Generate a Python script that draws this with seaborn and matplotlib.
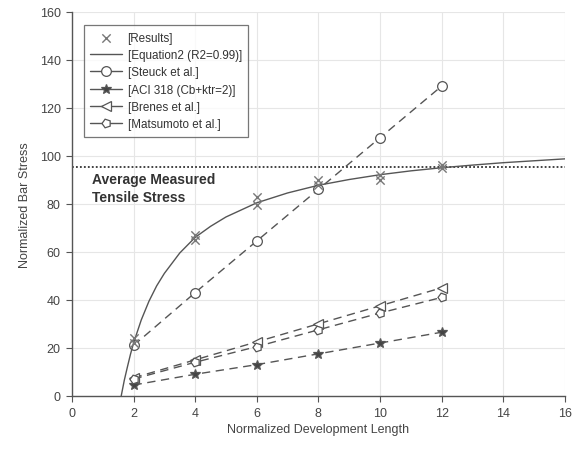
import matplotlib
matplotlib.use("Agg")
import matplotlib.pyplot as plt
import seaborn as sns
import numpy as np
import pandas as pd

# ---- data ----
results_x = [2, 2, 4, 4, 6, 6, 8, 8, 10, 10, 12, 12]
results_y = [22, 24, 65, 67, 79.5, 83, 88, 90, 90, 92, 95, 96]

eq_x = [1.6, 1.7, 1.8, 1.9, 2.0, 2.25, 2.5, 2.75, 3.0, 3.5, 4.0, 4.5, 5.0, 6.0, 7.0,
        8.0, 9.0, 10.0, 11.0, 12.0, 13.0, 14.0, 15.0, 16.0]
eq_y = [0, 6.5, 12, 17.3, 22, 31.6, 39.4, 45.8, 51, 59.5, 66, 70.6, 74.5, 80.4, 84.5,
        87.7, 90.1, 92.1, 93.7, 95, 96.1, 97.1, 97.9, 98.7]

ld = [2, 4, 6, 8, 10, 12]
steuck = [21, 43, 64.5, 86, 107.5, 129]
aci = [4.5, 9, 13, 17.5, 22, 26.5]
brenes = [7.5, 15, 22.5, 30, 37.5, 45]
matsumoto = [7, 14, 20.5, 27.5, 34.5, 41]

avg_tensile = 95.5

labels = ["[Results]", "[Equation2 (R2=0.99)]", "[Steuck et al.]",
          "[ACI 318 (Cb+ktr=2)]", "[Brenes et al.]", "[Matsumoto et al.]"]

# ---- styling ----
sns.set_theme(style="white")
plt.rcParams['font.family'] = ['Liberation Sans', 'DejaVu Sans']
txt = "#444444"

fig = plt.figure(figsize=(5.8, 4.52), dpi=100)
ax = fig.add_axes([0.124, 0.122, 0.850, 0.850])

lc = "#555555"
sns.scatterplot(x=results_x, y=results_y, marker="x", s=36, color="#777777",
                linewidth=1.0, ax=ax, label=labels[0], zorder=4)
sns.lineplot(x=eq_x, y=eq_y, color=lc, linewidth=1.0, ax=ax, label=labels[1],
             sort=False, zorder=3)
common = dict(color=lc, linewidth=1.0, linestyle=(0, (6, 4)),
              markeredgecolor=lc, markeredgewidth=0.9, ax=ax)
sns.lineplot(x=ld, y=steuck, marker="o", markersize=7, markerfacecolor="white",
             label=labels[2], **common)
sns.lineplot(x=ld, y=aci, marker="*", markersize=7, markerfacecolor="#444444",
             label=labels[3], **common)
sns.lineplot(x=ld, y=brenes, marker="<", markersize=6.5, markerfacecolor="white",
             label=labels[4], **common)
sns.lineplot(x=ld, y=matsumoto, marker=(5, 0, 90), markersize=6.5,
             markerfacecolor="white", label=labels[5], **common)

ax.axhline(avg_tensile, color="#333333", linestyle=(0, (1, 1.2)), linewidth=1.3, zorder=2)
ax.text(0.65, 90.5, "Average Measured", color="#333333", fontsize=10,
        fontweight="bold", va="center", ha="left")
ax.text(0.65, 83, "Tensile Stress", color="#333333", fontsize=10,
        fontweight="bold", va="center", ha="left")

ax.set_xlim(0, 16)
ax.set_ylim(0, 160)
ax.set_xticks(np.arange(0, 17, 2))
ax.set_yticks(np.arange(0, 161, 20))
ax.grid(True, color="#e6e6e6", linewidth=0.8)
ax.set_axisbelow(True)
for s in ["top", "right"]:
    ax.spines[s].set_visible(False)
for s in ["left", "bottom"]:
    ax.spines[s].set_color("#555555")
    ax.spines[s].set_linewidth(1.0)
ax.tick_params(axis="both", direction="out", length=4, width=0.8, color="#555555",
               labelsize=9, labelcolor=txt, bottom=True, left=True, pad=4)
ax.set_xlabel("Normalized Development Length", fontsize=9, color=txt, labelpad=3)
ax.set_ylabel("Normalized Bar Stress", fontsize=9, color=txt, labelpad=6)

leg = ax.legend(loc="upper left", bbox_to_anchor=(0.024, 0.964), fontsize=8.4,
                frameon=True, fancybox=False, edgecolor="#555555", handlelength=2.7,
                labelspacing=0.45, borderpad=0.55, handletextpad=0.5,
                borderaxespad=0)
leg.get_frame().set_linewidth(0.9)
for h in leg.legend_handles[1:]:
    try:
        h.set_linestyle("-")
    except Exception:
        pass
for t in leg.get_texts():
    t.set_color("#333333")

fig.savefig("out.png", dpi=100)
